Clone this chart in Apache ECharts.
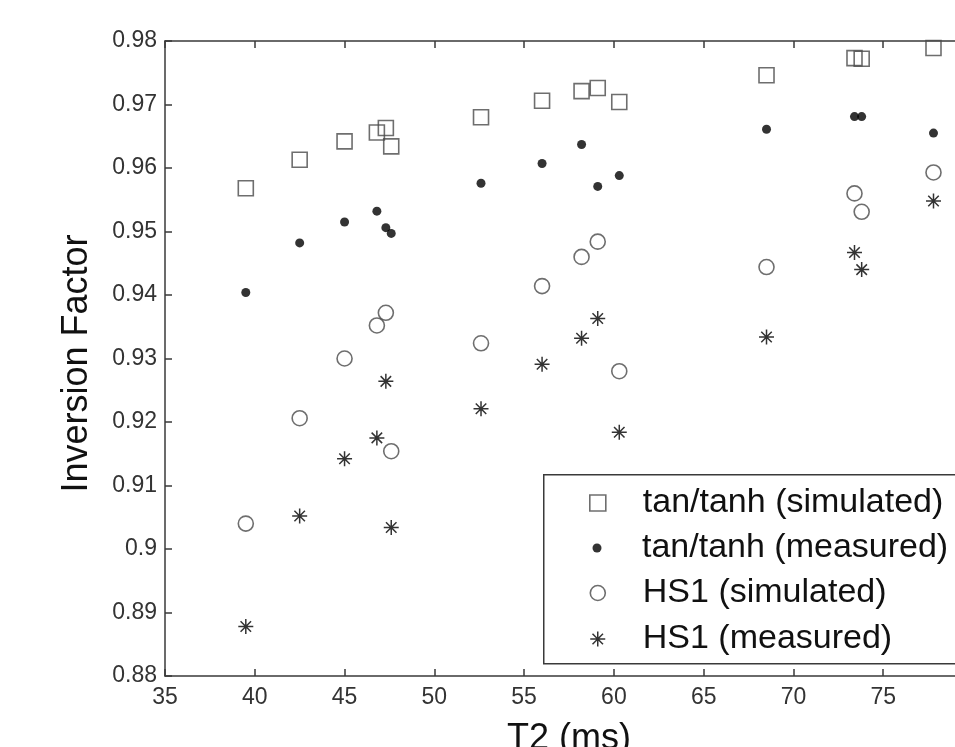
<!DOCTYPE html>
<html>
<head>
<meta charset="utf-8">
<script src="https://cdn.jsdelivr.net/npm/echarts@6/dist/echarts.min.js"></script>
<style>
html,body{margin:0;padding:0;background:#fff;overflow:hidden;width:955px;height:747px;}
#c{width:1000px;height:747px;}
</style>
</head>
<body>
<div id="c"></div>
<script>
// T2 values (ms), shared by all series
const t2 = [39.5, 42.5, 45.0, 46.8, 47.3, 47.6, 52.6, 56.0, 58.2, 59.1, 60.3, 68.5, 73.4, 73.8, 77.8];
const tanSim  = [0.9568, 0.9613, 0.9642, 0.9656, 0.9663, 0.9634, 0.9680, 0.9706, 0.9721, 0.9726, 0.9704, 0.9746, 0.9773, 0.9772, 0.9789];
const tanMeas = [0.9404, 0.9482, 0.9515, 0.9532, 0.9506, 0.9497, 0.9576, 0.9607, 0.9637, 0.9571, 0.9588, 0.9661, 0.9681, 0.9681, 0.9655];
const hsSim   = [0.9040, 0.9206, 0.9300, 0.9352, 0.9372, 0.9154, 0.9324, 0.9414, 0.9460, 0.9484, 0.9280, 0.9444, 0.9560, 0.9531, 0.9593];
const hsMeas  = [0.8878, 0.9052, 0.9142, 0.9175, 0.9264, 0.9034, 0.9221, 0.9291, 0.9332, 0.9363, 0.9184, 0.9334, 0.9467, 0.9440, 0.9548];
const seriesNames = ['tan/tanh (simulated)', 'tan/tanh (measured)', 'HS1 (simulated)', 'HS1 (measured)'];
const xTicks = {min: 35, max: 80, interval: 5};
const yTicks = {min: 0.88, max: 0.98, interval: 0.01};

const pair = (ys) => t2.map((x, i) => [x, ys[i]]);
const star = 'path://M0,-10L0,10M-10,0L10,0M-7,-7L7,7M-7,7L7,-7';
const FONT = 'Liberation Sans, Arial, sans-serif';
const axisCol = '#3a3a3a';

const styles = [
  {symbol: 'rect', size: 15, item: {color: 'transparent', borderColor: '#4a4a4a', borderWidth: 1.6}},
  {symbol: 'circle', size: 9, item: {color: '#000', borderWidth: 0}},
  {symbol: 'circle', size: 15, item: {color: 'transparent', borderColor: '#4a4a4a', borderWidth: 1.6}},
  {symbol: star, size: 15, item: {color: 'transparent', borderColor: '#000', borderWidth: 1.5}}
];
const dataSets = [tanSim, tanMeas, hsSim, hsMeas];
const legendRows = [503, 548, 593, 639];
const legendIconSize = [16, 9, 15, 15];

const chart = echarts.init(document.getElementById('c'), null, {renderer: 'canvas'});
const option = {
  animation: false,
  backgroundColor: '#fff',
  grid: {left: 165, right: 27, top: 41, bottom: 71, containLabel: false, outerBoundsMode: 'none'},
  xAxis: [{
    type: 'value', min: xTicks.min, max: xTicks.max, interval: xTicks.interval,
    name: 'T2 (ms)', nameLocation: 'middle', nameGap: 45,
    nameTextStyle: {fontFamily: FONT, fontSize: 36, color: '#111'},
    axisLine: {show: true, onZero: false, lineStyle: {color: axisCol, width: 1.5}},
    axisTick: {show: true, inside: true, length: 7, lineStyle: {color: axisCol, width: 1.5}},
    axisLabel: {fontFamily: FONT, fontSize: 23, color: '#333', margin: 10},
    splitLine: {show: false}
  }, {
    type: 'value', position: 'top', min: xTicks.min, max: xTicks.max, interval: xTicks.interval,
    axisLine: {show: true, onZero: false, lineStyle: {color: axisCol, width: 1.5}},
    axisTick: {show: true, inside: true, length: 7, lineStyle: {color: axisCol, width: 1.5}},
    axisLabel: {show: false}, splitLine: {show: false}
  }],
  yAxis: [{
    type: 'value', min: yTicks.min, max: yTicks.max, interval: yTicks.interval,
    name: 'Inversion Factor', nameLocation: 'middle', nameGap: 70,
    nameTextStyle: {fontFamily: FONT, fontSize: 36, color: '#111', padding: [0, 10, 0, 0]},
    axisLine: {show: true, onZero: false, lineStyle: {color: axisCol, width: 1.5}},
    axisTick: {show: true, inside: true, length: 7, lineStyle: {color: axisCol, width: 1.5}},
    axisLabel: {fontFamily: FONT, fontSize: 23, color: '#333', margin: 8,
      formatter: v => String(parseFloat(v.toFixed(2)))},
    splitLine: {show: false}
  }, {
    type: 'value', position: 'right', min: yTicks.min, max: yTicks.max, interval: yTicks.interval,
    axisLine: {show: true, onZero: false, lineStyle: {color: axisCol, width: 1.5}},
    axisTick: {show: true, inside: true, length: 7, lineStyle: {color: axisCol, width: 1.5}},
    axisLabel: {show: false}, splitLine: {show: false}
  }],
  legend: seriesNames.map((n, i) => ({
    data: [n],
    orient: 'vertical',
    left: 597 - legendIconSize[i] / 2,
    top: legendRows[i] - 20,
    padding: 0,
    itemWidth: legendIconSize[i],
    itemHeight: legendIconSize[i],
    itemStyle: styles[i].item,
    selectedMode: false,
    textStyle: {fontFamily: FONT, fontSize: 34, color: '#111', lineHeight: 40,
      padding: [0, 0, 0, 45 - legendIconSize[i] / 2 - 5]}
  })),
  graphic: [{
    type: 'rect', left: 543, top: 474, z: 0,
    shape: {width: 450, height: 189},
    style: {fill: '#fff', stroke: axisCol, lineWidth: 1.5}
  }],
  series: seriesNames.map((n, i) => ({
    name: n, type: 'scatter',
    symbol: styles[i].symbol, symbolSize: styles[i].size,
    itemStyle: styles[i].item,
    data: pair(dataSets[i]),
    z: 3
  }))
};
chart.setOption(option);
</script>
</body>
</html>
